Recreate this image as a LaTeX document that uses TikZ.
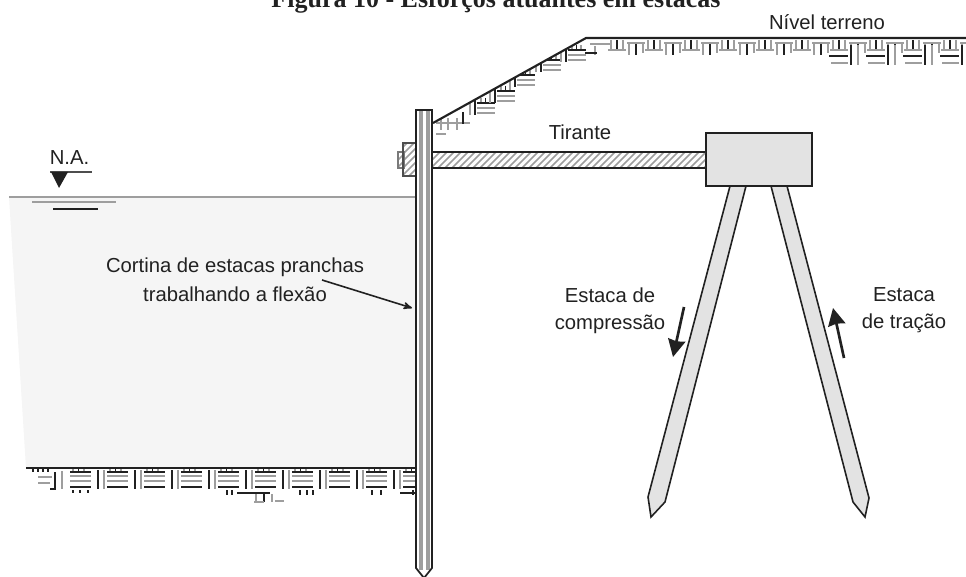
\documentclass[tikz,border=0pt]{standalone}
\usepackage{fontspec}
\setmainfont{Liberation Sans}
\newfontfamily\titlefont{Liberation Serif}
\usetikzlibrary{arrows,arrows.meta}
\definecolor{inkcolor}{rgb}{0.13,0.13,0.13}
\definecolor{soilgrey}{rgb}{0.62,0.62,0.62}
\definecolor{watercolor}{rgb}{0.96,0.96,0.96}
\definecolor{pilecolor}{rgb}{0.89,0.89,0.89}
% one soil tile under a flat ground line
\newcommand{\soildeep}[2]{
  \begin{scope}[shift={(#1,#2)}]
    \foreach \tx in {3,14} \draw[soilg] (\tx,1) -- (\tx,4);
    \draw[soilb] (8.5,1) -- (8.5,4);
    \draw[soilb] (0,4) -- (21,4);
    \draw[soilg] (0,8) -- (21,8);
    \draw[soilg] (0,13) -- (21,13);
    \draw[soilb] (0,19) -- (21,19);
    \draw[soilb] (28,2) -- (28,21);
    \draw[soilg] (34,2) -- (34,21);
  \end{scope}}
\newcommand{\soilflat}[2]{
  \begin{scope}[shift={(#1,#2)}]
    \foreach \tx in {0,12} \draw[soilg] (\tx,2) -- (\tx,11);
    \draw[soilb] (6,2) -- (6,11);
    \draw[soilg] (-3,12) -- (15,12);
    \draw[soilg] (16,5) -- (34,5);
    \draw[soilg] (18,6) -- (18,17);
    \draw[soilb] (25,6) -- (25,17);
    \draw[soilg] (32,6) -- (32,15);
  \end{scope}}
\newcommand{\soilstair}[2]{
  \begin{scope}[shift={(#1,#2)}]
    \foreach \tx in {4,13} \draw[soilg] (\tx,-5) -- (\tx,0);
    \draw[soilb] (8.5,-5) -- (8.5,0);
    \draw[soilb] (0,0) -- (18,0);
    \draw[soilg] (0,5) -- (18,5);
    \draw[soilg] (0,10) -- (18,10);
    \draw[soilg] (-7,-8) -- (-7,12);
    \draw[soilb] (-2,-6) -- (-2,12);
  \end{scope}}
% slanted hatch inside a box
\newcommand{\hatchbox}[4]{
  \begin{scope}
    \clip (#1,#2) rectangle (#3,#4);
    \foreach \hx in {0,7,...,315}
      \draw[soilg,line width=1.1pt] (#1+\hx-36,#4) -- (#1+\hx,#4-36);
  \end{scope}}

\begin{document}
\begin{tikzpicture}[x=0.75pt,y=-0.75pt,>=stealth',font=\fontsize{15.2}{15}\selectfont,text=inkcolor]
  \tikzstyle{soilg}=[draw=soilgrey,line width=1.3pt]
  \tikzstyle{soilb}=[draw=inkcolor,line width=0.9pt]
  \tikzstyle{pile}=[draw=inkcolor,line width=1.2pt,fill=pilecolor,line join=miter]
  \tikzstyle{force}=[line width=2pt,draw=inkcolor,-{Stealth[length=13pt,width=13pt,inset=1pt]}]
  \tikzstyle{every node}=[align=center,inner sep=0pt]
  \useasboundingbox (0,0) rectangle (966,577);

  % agua
  \fill[watercolor] (9,197) -- (415,197) -- (415,468) -- (26,468) -- cycle;
  \draw[draw=soilgrey,line width=1.6pt] (9,197) -- (415,197);
  \draw[draw=soilgrey,line width=1.3pt] (32,202) -- (116,202);
  \draw[draw=inkcolor,line width=0.9pt] (53,209) -- (98,209);
  \draw[draw=inkcolor!80,line width=0.9pt] (50,172) -- (92,172);
  \fill[inkcolor] (51,172) -- (68,172) -- (59,188) -- cycle;

  % solo esquerdo
  \begin{scope}
    \clip (26,460) rectangle (415,510);
    \foreach \sx in {70,107,144,181,218,255,292,329,366,403} \soildeep{\sx}{468};
    \foreach \tx in {33,38,43,48} \draw[soilb] (\tx,469) -- (\tx,472);
    \draw[soilg] (38,477) -- (52,477);
    \draw[soilg] (38,483) -- (50,483);
    \draw[soilb] (50,489) -- (55,489);
    \draw[soilb] (55,472) -- (55,490);
    \draw[soilg] (62,471) -- (62,489);
    \foreach \tx in {73,80,88} \draw[soilb] (\tx,490) -- (\tx,493);
    \draw[soilb] (237,493) -- (270,493);
    \draw[soilb] (400,493) -- (415,493);
    \draw[soilg] (256,494) -- (256,502);
    \draw[soilb] (264,494) -- (264,502);
    \draw[soilg] (272,494) -- (272,502);
    \draw[soilg] (254,502) -- (264,502);
    \draw[soilg] (275,501) -- (284,501);
    \foreach \sx in {227,232,300,307,313,372,381,413} \draw[soilb] (\sx,490) -- (\sx,495);
  \end{scope}
  \draw[draw=inkcolor,line width=1.6pt] (26,468) -- (415,468);

  % solo direito
  \begin{scope}
    \clip (433,123) -- (586,38) -- (966,38) -- (966,140) -- (433,140) -- cycle;
    \foreach \sx in {611,648,685,722,759,796} \soilflat{\sx}{38};
    \foreach \sx in {833,870,907,944} {
      \soilflat{\sx}{38}
      \draw[soilb] (\sx-4,56) -- (\sx+15,56);
      \draw[soilg] (\sx-2,63) -- (\sx+15,63);
      \draw[soilb] (\sx+18,45) -- (\sx+18,65);
      \draw[soilg] (\sx+25,45) -- (\sx+25,65);
    }
    \foreach \sx/\sy in {477/103,497/91,517/75,543/60,568/50} \soilstair{\sx}{\sy};
    \draw[soilg] (590,44) -- (610,44);
    \draw[soilg] (595,46) -- (595,55);
    \draw[soilb] (585,53) -- (597,53);
    \foreach \tx in {441,448,457} \draw[soilg] (\tx,118) -- (\tx,130);
    \draw[soilg] (436,123) -- (470,123);
    \draw[soilg] (436,134) -- (446,134);
    \draw[soilb] (463,112) -- (463,124);
  \end{scope}
  \draw[draw=inkcolor,line width=1.6pt] (433,123) -- (586,38) -- (966,38);

  % tirante
  \node (bloco) [rectangle,draw=inkcolor,line width=1.5pt,fill=pilecolor,minimum width=80pt,minimum height=39.75pt] at (759,160) {};
  \hatchbox{398}{152}{404}{168}
  \hatchbox{403}{143}{416}{176}
  \hatchbox{432}{152}{705}{168}
  \draw[draw=inkcolor!60,line width=0.8pt] (398,152) rectangle (404,168);
  \draw[draw=inkcolor!80,line width=0.8pt] (403,143) rectangle (416,176);
  \draw[draw=inkcolor,line width=1.6pt] (432,152) -- (705,152) (432,168) -- (705,168);

  % cortina
  \fill[white] (416,110) -- (432,110) -- (432,568) -- (424,578) -- (416,568) -- cycle;
  \draw[soilg,line width=3pt] (421,110) -- (421,570) (427.5,110) -- (427.5,570);
  \draw[draw=inkcolor,line width=1.3pt] (416,110) -- (432,110) -- (432,568) -- (424,578) -- (416,568) -- cycle;

  % estacas
  \draw[pile] (730,186) -- (746,186) -- (665,502) -- (651,517) -- (648,497) -- cycle;
  \draw[pile] (771,186) -- (787,186) -- (869,498) -- (865,517) -- (853,502) -- cycle;

  \node[anchor=base] (title) at (496,8) {\titlefont\bfseries\fontsize{19.5}{22}\selectfont Figura 10 - Esforços atuantes em estacas};
  \node (terreno) at (827,22) {Nível terreno};
  \node (tirante) at (580,132) {Tirante};
  \node (na) at (69.5,158) {N.A.};
  \node (cortina) at (235,279.5) {Cortina de estacas pranchas\\[7pt]trabalhando a flexão};
  \node (compressao) at (610,310.5) {Estaca de\\[5pt]compressão};
  \node (tracao) at (904,310) {Estaca\\[5pt]de tração};

  \coordinate (flexA) at (322,280);
  \coordinate (flexB) at (412,308);
  \draw[->,line width=1.2pt,draw=inkcolor] (flexA) -- (flexB);
  \coordinate (compA) at (684,307);
  \coordinate (compB) at (673,357);
  \draw[force] (compA) -- (compB);
  \coordinate (tracA) at (844,358);
  \coordinate (tracB) at (833,308);
  \draw[force] (tracA) -- (tracB);
\end{tikzpicture}
\end{document}
